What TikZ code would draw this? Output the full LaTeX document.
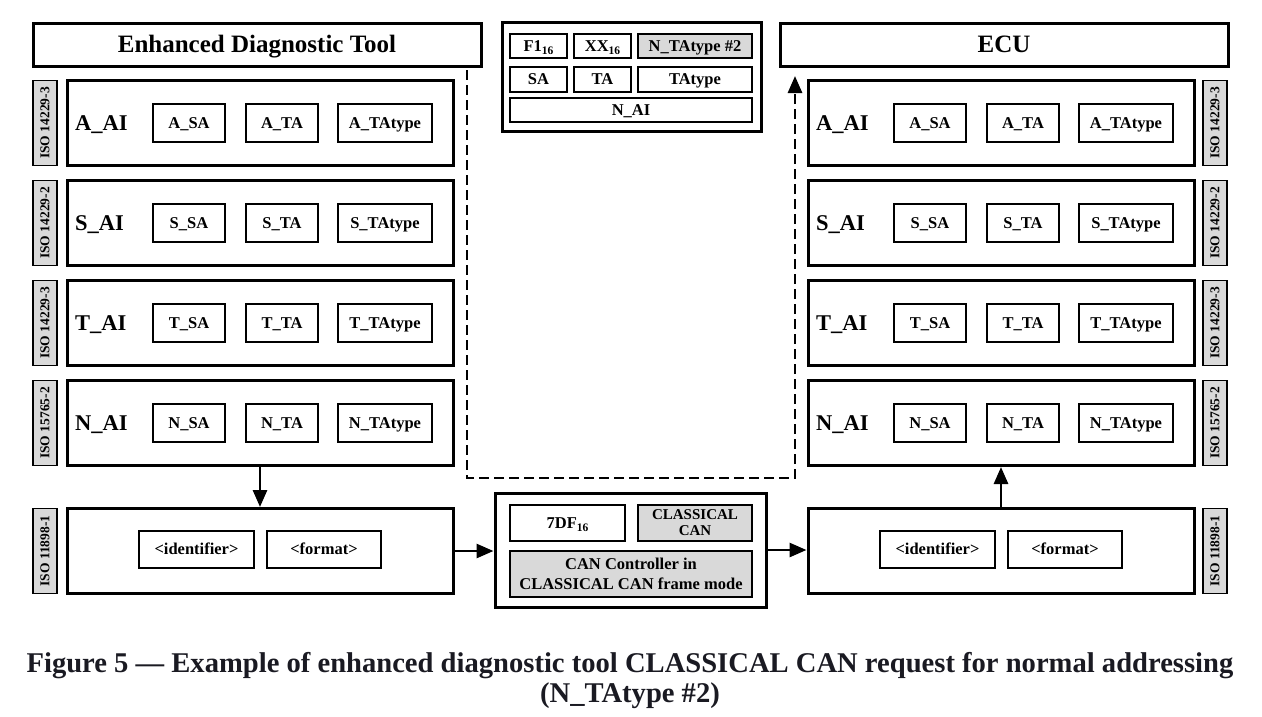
\documentclass[tikz,border=0pt]{standalone}
\usepackage{fontspec}
\setmainfont{Liberation Serif}
\usepackage{xcolor}
\definecolor{ink}{HTML}{000000}
\definecolor{cellgray}{HTML}{D9D9D9}
\definecolor{capink}{HTML}{1A1A22}
\usetikzlibrary{arrows.meta}
\newcommand{\hexsub}[1]{\raisebox{-0.35ex}{\fontsize{11.5}{12}\selectfont #1}}

\begin{document}
\begin{tikzpicture}[
  x=1pt, y=-1pt,
  font=\bfseries,
  capcentre/.style={text height=0.86*#1, text depth=0.2*#1},
  titlebox/.style={draw=ink, line width=3pt, minimum width=448, minimum height=43, capcentre=25pt,
                   font=\bfseries\fontsize{25}{27}\selectfont},
  layer/.style={draw=ink, line width=3pt, minimum width=386, minimum height=85},
  laylabel/.style={anchor=west, inner sep=0pt, capcentre=22.5pt, font=\bfseries\fontsize{22.5}{25}\selectfont},
  cell/.style={draw=ink, line width=2pt, minimum height=38, inner sep=2pt, capcentre=16.5pt,
               font=\bfseries\fontsize{16.5}{18}\selectfont},
  graycell/.style={cell, fill=cellgray},
  textcell/.style={draw=ink, line width=2pt, fill=cellgray, inner sep=2pt, align=center},
  stdtag/.style={draw=ink, line width=1.8pt, fill=cellgray, rotate=90, minimum width=85,
                 minimum height=24, inner sep=1pt, capcentre=13.5pt, font=\bfseries\fontsize{13.5}{14}\selectfont},
  frame/.style={draw=ink, line width=3pt},
  link/.style={line width=2.8pt, -{Triangle[length=17pt,width=14pt]}},
  dlink/.style={line width=2.8pt, dash pattern=on 10pt off 5pt, -{Triangle[length=17pt,width=14pt]}}
]
  \useasboundingbox (0,0) rectangle (1262,716);

  % titles
  \node[titlebox] (tool) at (257,44.5) {Enhanced Diagnostic Tool};
  \node[titlebox] (ecu)  at (1004,44.5) {ECU};

  % address information layers, tool side and ECU side
  \foreach \ly/\lay/\std in {123/A/ISO 14229-3, 223/S/ISO 14229-2,
                             323/T/ISO 14229-3, 423/N/ISO 15765-2} {
    \node[layer] (l\lay) at (260,\ly) {};
    \node[stdtag] (ls\lay) at (45,\ly) {\std};
    \node[laylabel] at (75,\ly) {\lay\_AI};
    \node[cell, minimum width=72] at (189,\ly) {\lay\_SA};
    \node[cell, minimum width=72] at (282,\ly) {\lay\_TA};
    \node[cell, minimum width=94] at (385,\ly) {\lay\_TAtype};

    \node[layer] (r\lay) at (1001,\ly) {};
    \node[stdtag] (rs\lay) at (1215,\ly) {\std};
    \node[laylabel] at (816,\ly) {\lay\_AI};
    \node[cell, minimum width=72] at (930,\ly) {\lay\_SA};
    \node[cell, minimum width=72] at (1023,\ly) {\lay\_TA};
    \node[cell, minimum width=94] at (1126,\ly) {\lay\_TAtype};
  }

  % data link layer
  \node[layer] (lbot) at (260,551) {};
  \node[stdtag] (lsbot) at (45,551) {ISO 11898-1};
  \node[cell, minimum width=115, minimum height=37] at (196.5,549.5) {<identifier>};
  \node[cell, minimum width=114, minimum height=37] at (324,549.5) {<format>};

  \node[layer] (rbot) at (1001,551) {};
  \node[stdtag] (rsbot) at (1215,551) {ISO 11898-1};
  \node[cell, minimum width=115, minimum height=37] at (937.5,549.5) {<identifier>};
  \node[cell, minimum width=114, minimum height=37] at (1065,549.5) {<format>};

  % N_AI mapping
  \node[frame, minimum width=259, minimum height=109] (nai) at (631.5,76.5) {};
  \node[cell, minimum width=57, minimum height=24] at (538.5,46) {F1\hexsub{16}};
  \node[cell, minimum width=57, minimum height=24] at (602.5,46) {XX\hexsub{16}};
  \node[graycell, minimum width=114, minimum height=24] at (695,46) {N\_TAtype \#2};
  \node[cell, minimum width=57, minimum height=25] at (538.5,79.5) {SA};
  \node[cell, minimum width=57, minimum height=25] at (602.5,79.5) {TA};
  \node[cell, minimum width=114, minimum height=25] at (695,79.5) {TAtype};
  \node[cell, minimum width=242, minimum height=24] at (631,110) {N\_AI};

  % CAN frame
  \node[frame, minimum width=271, minimum height=114] (can) at (630.5,550) {};
  \node[cell, minimum width=115, minimum height=36] at (567.5,523) {7DF\hexsub{16}};
  \node[textcell, minimum width=114, minimum height=36,
        font=\bfseries\fontsize{15}{16}\selectfont] at (695,523) {CLASSICAL\\CAN};
  \node[textcell, minimum width=242, minimum height=46,
        font=\bfseries\fontsize{16.5}{20}\selectfont] at (631,574)
        {CAN Controller in\\CLASSICAL CAN frame mode};

  \coordinate (dstart) at (467,70);
  \coordinate (dturn) at (795,478);
  \coordinate (dend) at (795,76);

  \draw[link] (lN.south) -- (lbot.north);
  \draw[link] (rbot.north) -- (rN.south);
  \draw[link] (lbot.east) -- (lbot.east -| can.west);
  \draw[link] (can.east) -- (can.east -| rbot.west);
  \draw[dlink] (dstart) |- (dturn) -- (dend);

  % caption
  \node[align=center, text=capink, font=\bfseries\fontsize{28.6}{30}\selectfont] (caption) at (630,681)
        {Figure 5 --- Example of enhanced diagnostic tool CLASSICAL CAN request for normal addressing\\(N\_TAtype \#2)};
\end{tikzpicture}
\end{document}
